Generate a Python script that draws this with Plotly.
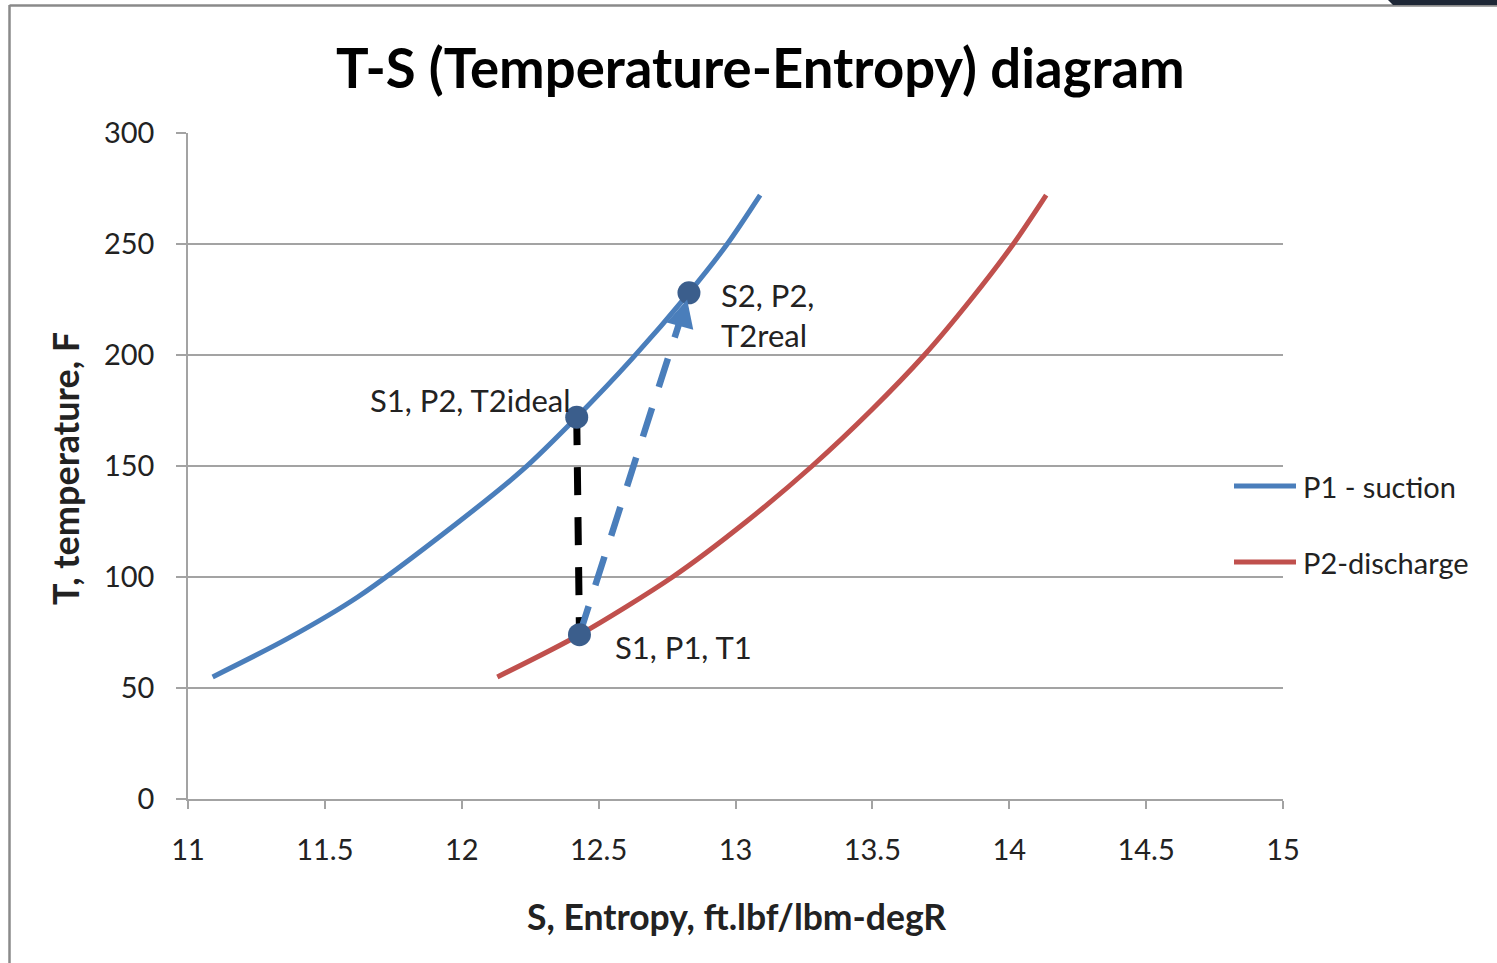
import plotly.graph_objects as go

# ---- data ----
p1_S = [11.09, 11.36, 11.62, 11.98, 12.22, 12.42, 12.62, 12.83, 12.97, 13.09]
p1_T = [55, 72, 91, 124, 148, 172, 198, 228, 250, 272]

p2_S = [12.13, 12.43, 12.77, 13.04, 13.28, 13.495, 13.69, 13.86, 14.015, 14.135]
p2_T = [55, 74, 100, 125, 150, 175, 200, 225, 250, 272]

state_names = ["S1, P1, T1", "S1, P2, T2ideal", "S2, P2,<br>T2real"]
state_S = [12.43, 12.42, 12.83]
state_T = [74, 172, 228]

x_ticks = [11, 11.5, 12, 12.5, 13, 13.5, 14, 14.5, 15]
y_ticks = [0, 50, 100, 150, 200, 250, 300]

BLUE = "#4a7ebb"
RED = "#c0504d"
DOT = "#3b5e8c"
GRID = "#a3a3a3"
TXT = "#222222"
FONT = "Lato"

L, R, T, B = 188, 214, 133, 164
W, H = 1497, 963
PW, PH = W - L - R, H - T - B


def px(xp):
    return (xp - L) / PW


def py(yp):
    return (H - B - yp) / PH


fig = go.Figure()

fig.add_trace(go.Scatter(x=p1_S, y=p1_T, mode="lines", name="P1 - suction",
                         line=dict(color=BLUE, width=5, shape="spline", smoothing=0.8), showlegend=False))
fig.add_trace(go.Scatter(x=p2_S, y=p2_T, mode="lines", name="P2-discharge",
                         line=dict(color=RED, width=5, shape="spline", smoothing=0.8), showlegend=False))

# ideal (isentropic) compression: vertical black dashed
fig.add_trace(go.Scatter(x=[state_S[1], state_S[0]], y=[state_T[1], state_T[0]], mode="lines",
                         line=dict(color="black", width=7, dash="28px,22px"), showlegend=False,
                         hoverinfo="skip"))
# real compression: blue dashed
fig.add_trace(go.Scatter(x=[state_S[0], state_S[2]], y=[state_T[0], state_T[2]], mode="lines",
                         line=dict(color=BLUE, width=6.5, dash="30px,22px"), showlegend=False,
                         hoverinfo="skip"))

fig.add_trace(go.Scatter(x=state_S, y=state_T, mode="markers",
                         marker=dict(color=DOT, size=23), showlegend=False))

annotations = []
# arrow head at S2
annotations.append(dict(x=state_S[2], y=state_T[2], xref="x", yref="y", text="",
                        showarrow=True, arrowhead=2, arrowsize=1.0, arrowwidth=5.5,
                        arrowcolor=BLUE, ax=-7, ay=26, standoff=7))
# state labels
annotations.append(dict(x=px(613), y=py(647), xref="paper", yref="paper", text=state_names[0],
                        showarrow=False, xanchor="left", yanchor="middle",
                        font=dict(family=FONT, size=31, color=TXT)))
annotations.append(dict(x=px(573), y=py(400), xref="paper", yref="paper", text=state_names[1],
                        showarrow=False, xanchor="right", yanchor="middle",
                        font=dict(family=FONT, size=31, color=TXT)))
annotations.append(dict(x=px(719), y=py(315), xref="paper", yref="paper", text=state_names[2],
                        showarrow=False, xanchor="left", yanchor="middle", align="left",
                        font=dict(family=FONT, size=31, color=TXT)))
# title
annotations.append(dict(x=px(760), y=py(67), xref="paper", yref="paper",
                        text="<b>T-S (Temperature-Entropy) diagram</b>",
                        showarrow=False, xanchor="center", yanchor="middle",
                        font=dict(family=FONT, size=54.5, color="black")))
# axis titles
annotations.append(dict(x=px(736), y=py(916), xref="paper", yref="paper",
                        text="<b>S, Entropy, ft.lbf/lbm-degR</b>",
                        showarrow=False, xanchor="center", yanchor="middle",
                        font=dict(family=FONT, size=35.5, color=TXT)))
annotations.append(dict(x=px(65), y=py(469), xref="paper", yref="paper",
                        text="<b>T, temperature, F</b>", textangle=-90,
                        showarrow=False, xanchor="center", yanchor="middle",
                        font=dict(family=FONT, size=36, color=TXT)))
# legend
for name, col, yy in [("P1 - suction", BLUE, 486), ("P2-discharge", RED, 562)]:
    annotations.append(dict(x=px(1301), y=py(yy), xref="paper", yref="paper", text=name,
                            showarrow=False, xanchor="left", yanchor="middle",
                            font=dict(family=FONT, size=29, color=TXT)))

shapes = []
for col, yy in [(BLUE, 486), (RED, 562)]:
    shapes.append(dict(type="line", xref="paper", yref="paper", x0=px(1234), x1=px(1296),
                       y0=py(yy), y1=py(yy), line=dict(color=col, width=5)))
# slide frame
shapes.append(dict(type="line", xref="paper", yref="paper", x0=px(9.5), x1=px(9.5),
                   y0=py(5), y1=py(963), line=dict(color="#8a8a8a", width=2.5)))
shapes.append(dict(type="line", xref="paper", yref="paper", x0=px(9.5), x1=px(1497),
                   y0=py(5.5), y1=py(5.5), line=dict(color="#8a8a8a", width=2.5)))
shapes.append(dict(type="path", xref="paper", yref="paper",
                   path=f"M {px(1388)} {py(0)} L {px(1497)} {py(0)} L {px(1497)} {py(5)} L {px(1393)} {py(5)} Z",
                   fillcolor="#1e2736", line=dict(width=0)))

fig.update_layout(
    width=W, height=H,
    margin=dict(l=L, r=R, t=T, b=B),
    paper_bgcolor="white", plot_bgcolor="white",
    showlegend=False,
    annotations=annotations, shapes=shapes,
    xaxis=dict(range=[11, 15], tickvals=x_ticks, ticktext=[f"{v:g}" for v in x_ticks],
               showgrid=False, zeroline=False, showline=True, linecolor=GRID, linewidth=1.5,
               ticks="outside", ticklen=8, tickcolor=GRID, tickwidth=1.5,
               ticklabelstandoff=16, tickfont=dict(family=FONT, size=29, color=TXT)),
    yaxis=dict(range=[0, 300], tickvals=y_ticks, showgrid=True, gridcolor=GRID, gridwidth=1.5,
               zeroline=False, showline=True, linecolor=GRID, linewidth=1.5,
               ticks="outside", ticklen=10, tickcolor=GRID, tickwidth=1.5,
               ticklabelstandoff=16, tickfont=dict(family=FONT, size=29, color=TXT)),
)

fig.write_html("out.html")
